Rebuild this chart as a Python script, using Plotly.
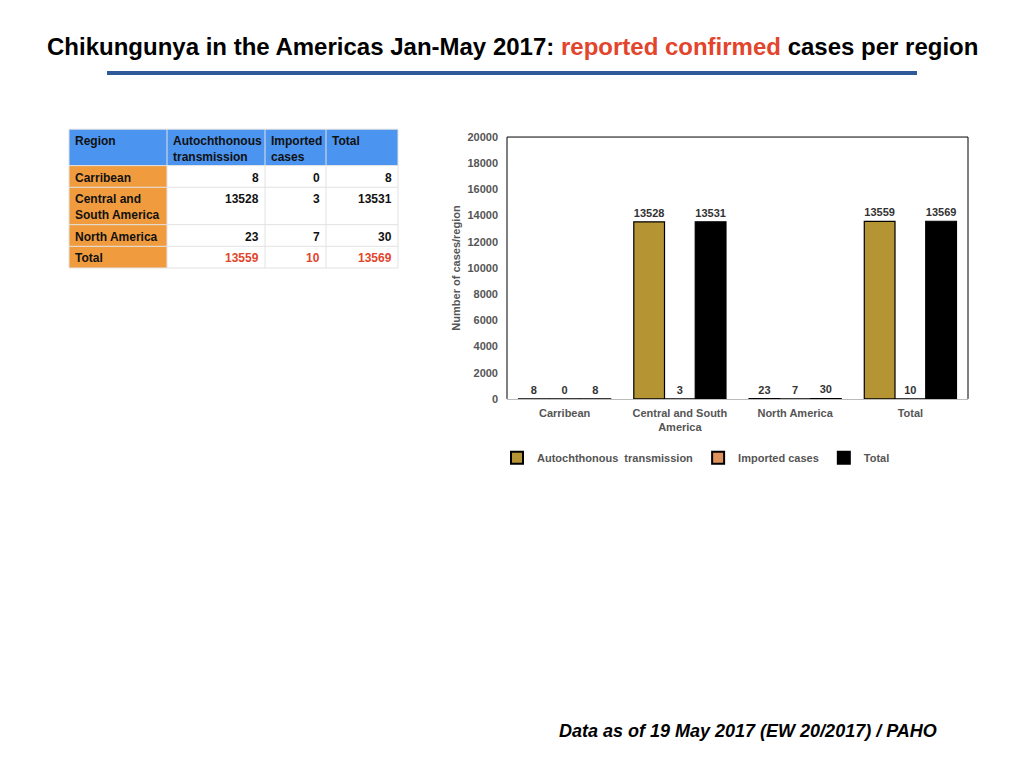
import plotly.graph_objects as go

regions = ["Carribean", "Central and South<br>America", "North America", "Total"]
autochthonous = [8, 13528, 23, 13559]
imported = [0, 3, 7, 10]
total = [8, 13531, 30, 13569]

table_header = ["Region", "Autochthonous<br>transmission", "Imported<br>cases", "Total"]
table_regions = ["Carribean", "Central and<br>South America", "North America", "Total"]

series_names = ["Autochthonous  transmission", "Imported cases", "Total"]
series_colors = ["#b59434", "#e0925c", "#000000"]

W, H = 1024, 768
OX, OY = 8, 12  # page offset of the figure inside the browser window
def px(x): return (x - OX) / W
def py(y): return 1 - (y - OY) / H

FONT = "Liberation Sans"
GREY = "#555555"
RED = "#e2452c"
DARK = "#111111"

fig = go.Figure()

for name, vals, col in zip(series_names, [autochthonous, imported, total], series_colors):
    fig.add_trace(go.Bar(
        x=regions, y=vals, name=name,
        marker=dict(color=col, line=dict(color="#000000", width=1.2)),
        text=[str(v) for v in vals], textposition="outside",
        textfont=dict(family=FONT, size=11, color="#333333", weight="bold"),
        cliponaxis=False,
    ))

# ---- table built from shapes + annotations ----
col_edges = [69, 167, 265, 326, 398]
row_edges = [129, 166, 188, 226, 248, 270]
shapes = []
annotations = []

# fills
for r in range(len(row_edges) - 1):
    for c in range(len(col_edges) - 1):
        if r == 0:
            fill = "#4b94ef"
        elif c == 0:
            fill = "#f09c3e"
        else:
            fill = "#ffffff"
        shapes.append(dict(type="rect", xref="paper", yref="paper",
                           x0=px(col_edges[c]), x1=px(col_edges[c + 1]),
                           y0=py(row_edges[r + 1]), y1=py(row_edges[r]),
                           fillcolor=fill, line=dict(width=0), layer="below"))
# grid lines
for y in row_edges:
    shapes.append(dict(type="line", xref="paper", yref="paper", x0=px(col_edges[0]), x1=px(col_edges[-1]),
                       y0=py(y), y1=py(y), line=dict(color="#e2e2e2", width=1)))
for x in col_edges:
    shapes.append(dict(type="line", xref="paper", yref="paper", x0=px(x), x1=px(x),
                       y0=py(row_edges[-1]), y1=py(row_edges[0]), line=dict(color="#e2e2e2", width=1)))

def cell_text(text, r, c, color=DARK, align="left"):
    x = px(col_edges[c] + 4) if align == "left" else px(col_edges[c + 1] - 4)
    annotations.append(dict(xref="paper", yref="paper", x=x, y=py(row_edges[r] + 3),
                            xanchor=align, yanchor="top", align=align, showarrow=False,
                            text="<b>%s</b>" % text,
                            font=dict(family=FONT, size=12, color=color)))

for c, h in enumerate(table_header):
    cell_text(h, 0, c)
columns = [autochthonous, imported, total]
for i, reg in enumerate(table_regions):
    r = i + 1
    is_total = (i == len(table_regions) - 1)
    cell_text(reg, r, 0)
    for c, vals in enumerate(columns):
        cell_text(str(vals[i]), r, c + 1, color=RED if is_total else DARK, align="right")

# ---- chart frame, title rule ----
shapes += [
    dict(type="path", xref="paper", yref="paper",
         path="M %f,%f L %f,%f L %f,%f L %f,%f" % (px(507), py(403), px(507), py(137),
                                                   px(968), py(137), px(968), py(403)),
         line=dict(color="#000000", width=1), layer="above"),
    dict(type="line", xref="paper", yref="paper", x0=px(107), x1=px(917),
         y0=py(72), y1=py(72), line=dict(color="#2f5a9a", width=4)),
]
annotations += [
    dict(xref="paper", yref="paper", x=px(512), y=py(45), xanchor="center", yanchor="middle",
         showarrow=False,
         text="<b>Chikungunya in the Americas Jan-May 2017: <span style='color:#e2452c'>reported confirmed</span> cases per region</b>",
         font=dict(family=FONT, size=24, color="#000000")),
    dict(xref="paper", yref="paper", x=px(939), y=py(740), xanchor="right", yanchor="middle",
         showarrow=False, text="<b><i>Data as of 19 May 2017 (EW 20/2017) / PAHO</i></b>",
         font=dict(family=FONT, size=18, color="#000000")),
]

fig.update_layout(
    width=W, height=H,
    margin=dict(l=0, r=0, t=0, b=0),
    paper_bgcolor="white", plot_bgcolor="white",
    barmode="group", bargap=0.2, bargroupgap=0,
    showlegend=True,
    legend=dict(orientation="h", x=px(696), xanchor="center", y=py(448), yanchor="top",
                font=dict(family=FONT, size=11, color=GREY, weight="bold"),
                itemwidth=30, itemsizing="constant", traceorder="normal"),
    xaxis=dict(domain=[px(507), px(968)], showline=True, linecolor="#bbbbbb", linewidth=1,
               mirror=False, ticks="", showgrid=False, ticklabelstandoff=4,
               tickfont=dict(family=FONT, size=11, color=GREY, weight="bold")),
    yaxis=dict(domain=[py(403), py(137)], range=[0, 20000], dtick=2000, tickformat="d",
               showgrid=False, showline=False, ticks="", zeroline=False, ticklabelstandoff=8,
               tickfont=dict(family=FONT, size=11, color=GREY, weight="bold"),
               title=dict(text="<b>Number of cases/region</b>", standoff=4,
                          font=dict(family=FONT, size=11, color=GREY))),
    shapes=shapes,
    annotations=annotations,
)

fig.write_html("out.html")
